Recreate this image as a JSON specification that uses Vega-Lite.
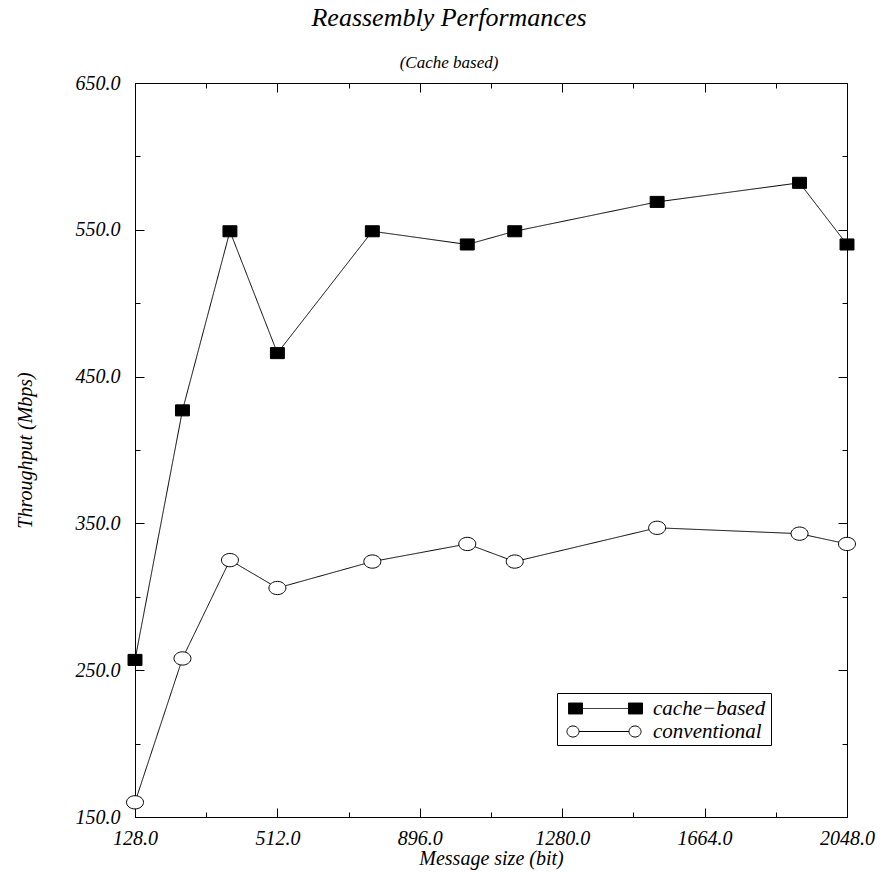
{
  "$schema": "https://vega.github.io/schema/vega-lite/v6.json",
  "width": 712,
  "height": 734,
  "autosize": {"type": "none"},
  "padding": {"left": 135, "top": 83, "right": 41, "bottom": 56},
  "background": "white",
  "title": {
    "text": "Reassembly Performances",
    "subtitle": "(Cache based)",
    "anchor": "middle",
    "dx": -42,
    "offset": 2,
    "font": "Liberation Serif",
    "fontSize": 26,
    "fontStyle": "italic",
    "fontWeight": "normal",
    "color": "black",
    "subtitleFont": "Liberation Serif",
    "subtitleFontSize": 17,
    "subtitleFontStyle": "italic",
    "subtitleColor": "black",
    "subtitlePadding": 24
  },
  "data": {
    "values": [
      {"size": 128, "tp": 257, "series": "cache-based"},
      {"size": 256, "tp": 427, "series": "cache-based"},
      {"size": 384, "tp": 549, "series": "cache-based"},
      {"size": 512, "tp": 466, "series": "cache-based"},
      {"size": 768, "tp": 549, "series": "cache-based"},
      {"size": 1024, "tp": 540, "series": "cache-based"},
      {"size": 1152, "tp": 549, "series": "cache-based"},
      {"size": 1536, "tp": 569, "series": "cache-based"},
      {"size": 1920, "tp": 582, "series": "cache-based"},
      {"size": 2048, "tp": 540, "series": "cache-based"},
      {"size": 128, "tp": 160, "series": "conventional"},
      {"size": 256, "tp": 258, "series": "conventional"},
      {"size": 384, "tp": 325, "series": "conventional"},
      {"size": 512, "tp": 306, "series": "conventional"},
      {"size": 768, "tp": 324, "series": "conventional"},
      {"size": 1024, "tp": 336, "series": "conventional"},
      {"size": 1152, "tp": 324, "series": "conventional"},
      {"size": 1536, "tp": 347, "series": "conventional"},
      {"size": 1920, "tp": 343, "series": "conventional"},
      {"size": 2048, "tp": 336, "series": "conventional"}
    ]
  },
  "resolve": {
    "axis": {"x": "independent", "y": "independent"},
    "scale": {"strokeDash": "independent"},
    "legend": {"strokeDash": "independent"}
  },
  "layer": [
    {
      "transform": [{"filter": "datum.series == 'cache-based'"}],
      "mark": {"type": "line", "color": "black", "strokeWidth": 1},
      "encoding": {
        "x": {
          "field": "size", "type": "quantitative",
          "scale": {"domain": [128, 2048], "nice": false, "zero": false},
          "axis": {
            "orient": "bottom",
            "values": [128, 320, 512, 704, 896, 1088, 1280, 1472, 1664, 1856, 2048],
            "labelExpr": "(datum.value-128)%384==0 ? format(datum.value,'.1f') : ''",
            "tickSize": {"condition": {"test": "(datum.value-128)%384==0", "value": -9}, "value": -5},
            "labelPadding": 20,
            "labelFontSize": 20,
            "labelFlush": false,
            "labelOverlap": false,
            "title": "Message size (bit)",
            "titleFontSize": 20,
            "titleY": 41,
            "titleBaseline": "middle"
          }
        },
        "y": {
          "field": "tp", "type": "quantitative",
          "scale": {"domain": [150, 650], "nice": false, "zero": false},
          "axis": {
            "orient": "left",
            "values": [150, 200, 250, 300, 350, 400, 450, 500, 550, 600, 650],
            "labelExpr": "(datum.value-150)%100==0 ? format(datum.value,'.1f') : ''",
            "tickSize": {"condition": {"test": "(datum.value-150)%100==0", "value": -9}, "value": -5},
            "labelPadding": 24,
            "labelFontSize": 20,
            "labelFlush": false,
            "labelOverlap": false,
            "labelBaseline": "middle",
            "title": "Throughput (Mbps)",
            "titleFontSize": 20,
            "titleX": -110,
            "titleY": 367,
            "titleAlign": "center",
            "titleBaseline": "middle",
            "titleAngle": -90
          }
        },
        "strokeDash": {
          "field": "series", "type": "nominal",
          "scale": {"domain": ["cache-based"], "range": [[1, 0]]},
          "legend": {
            "orient": "none",
            "legendX": 422,
            "legendY": 610,
            "title": "\u00a0",
            "titleOrient": "bottom",
            "titleFontSize": 21,
            "titlePadding": 0,
            "padding": 5,
            "strokeColor": "black",
            "symbolType": "M-0.57,-0.79L1.43,-0.79L1.43,0.79L-0.57,0.79Z M8,-0.79L10,-0.79L10,0.79L8,0.79Z M1.43,0L8,0",
            "symbolFillColor": "black",
            "symbolStrokeColor": "black",
            "symbolStrokeWidth": 1,
            "symbolSize": 196,
            "labelOffset": 70,
            "labelFont": "Liberation Serif",
            "labelFontSize": 21,
            "labelFontStyle": "italic",
            "labelColor": "black",
            "labelLimit": 300,
            "labelExpr": "replace(datum.label, '-', '\u2212') + '\u00a0\u00a0\u00a0\u00a0'"
          }
        }
      }
    },
    {
      "transform": [{"filter": "datum.series == 'conventional'"}],
      "mark": {"type": "line", "color": "black", "strokeWidth": 1},
      "encoding": {
        "x": {"field": "size", "type": "quantitative", "axis": null},
        "y": {"field": "tp", "type": "quantitative", "axis": null},
        "strokeDash": {
          "field": "series", "type": "nominal",
          "scale": {"domain": ["conventional"], "range": [[1, 0]]},
          "legend": {
            "orient": "none",
            "legendX": 422,
            "legendY": 633,
            "title": null,
            "padding": 5,
            "symbolType": "M-0.79,0A0.86,0.79 0 1,1 0.93,0A0.86,0.79 0 1,1 -0.79,0Z M8.07,0A0.86,0.79 0 1,1 9.79,0A0.86,0.79 0 1,1 8.07,0Z M0.93,0L8.07,0",
            "symbolFillColor": "white",
            "symbolStrokeColor": "black",
            "symbolStrokeWidth": 1,
            "symbolSize": 196,
            "labelOffset": 70,
            "labelFont": "Liberation Serif",
            "labelFontSize": 21,
            "labelFontStyle": "italic",
            "labelColor": "black"
          }
        }
      }
    },
    {
      "transform": [{"filter": "datum.series == 'cache-based'"}],
      "mark": {"type": "point", "shape": "M-0.82,-0.65L0.82,-0.65L0.82,0.65L-0.82,0.65Z", "filled": true, "fill": "black", "opacity": 1, "stroke": "black", "strokeWidth": 1, "size": 289},
      "encoding": {
        "x": {
          "field": "size", "type": "quantitative",
          "axis": {
            "orient": "top",
            "values": [128, 320, 512, 704, 896, 1088, 1280, 1472, 1664, 1856, 2048],
            "labels": false,
            "tickSize": {"condition": {"test": "(datum.value-128)%384==0", "value": -9}, "value": -5},
            "title": null
          }
        },
        "y": {
          "field": "tp", "type": "quantitative",
          "axis": {
            "orient": "right",
            "values": [150, 200, 250, 300, 350, 400, 450, 500, 550, 600, 650],
            "labels": false,
            "tickSize": {"condition": {"test": "(datum.value-150)%100==0", "value": -9}, "value": -5},
            "title": null
          }
        }
      }
    },
    {
      "transform": [{"filter": "datum.series == 'conventional'"}],
      "mark": {"type": "point", "shape": "M-1,0A1,0.78 0 1,1 1,0A1,0.78 0 1,1 -1,0Z", "filled": true, "fill": "white", "opacity": 1, "stroke": "black", "strokeWidth": 1, "size": 289},
      "encoding": {
        "x": {"field": "size", "type": "quantitative", "axis": null},
        "y": {"field": "tp", "type": "quantitative", "axis": null}
      }
    }
  ],
  "config": {
    "view": {"stroke": "black", "strokeWidth": 1},
    "font": "Liberation Serif",
    "axis": {
      "domain": false,
      "grid": false,
      "tickColor": "black",
      "tickWidth": 1,
      "labelColor": "black",
      "labelFont": "Liberation Serif",
      "labelFontStyle": "italic",
      "titleColor": "black",
      "titleFont": "Liberation Serif",
      "titleFontStyle": "italic",
      "titleFontWeight": "normal"
    }
  }
}
